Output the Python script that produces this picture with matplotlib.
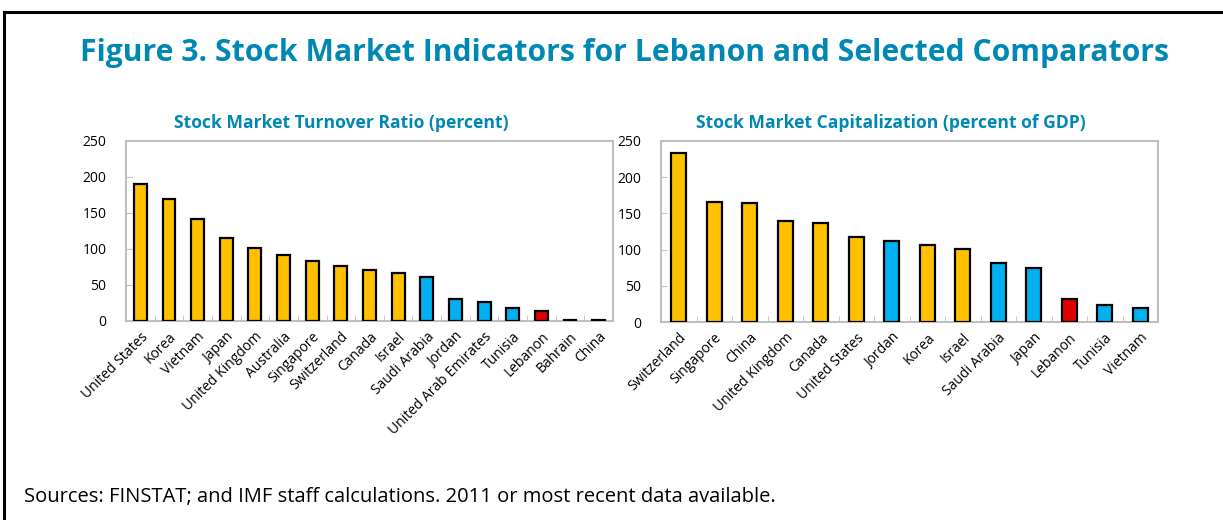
import matplotlib
matplotlib.use("Agg")
import matplotlib.pyplot as plt
from matplotlib.lines import Line2D
import numpy as np

plt.rcParams['font.family'] = ['Open Sans', 'DejaVu Sans']

YEL = '#FFC000'
BLU = '#00B0F0'
RED = '#E00000'
TEAL = '#0088B5'

# turnover ratio (percent)
turn_names = ['United States', 'Korea', 'Vietnam', 'Japan', 'United Kingdom', 'Australia',
              'Singapore', 'Switzerland', 'Canada', 'Israel', 'Saudi Arabia', 'Jordan',
              'United Arab Emirates', 'Tunisia', 'Lebanon', 'Bahrain', 'China']
turn_vals = [190, 169, 141, 115, 102, 91, 83, 76, 71, 67, 61, 30, 26, 18, 14, 2, 1]
turn_cols = [YEL]*10 + [BLU]*4 + [RED] + [BLU]*2

# market capitalization (percent of GDP)
cap_names = ['Switzerland', 'Singapore', 'China', 'United Kingdom', 'Canada', 'United States',
             'Jordan', 'Korea', 'Israel', 'Saudi Arabia', 'Japan', 'Lebanon', 'Tunisia', 'Vietnam']
cap_vals = [234, 166, 164, 139, 137, 117, 112, 107, 101, 81, 74, 32, 24, 19]
cap_cols = [YEL]*6 + [BLU] + [YEL]*2 + [BLU]*2 + [RED] + [BLU]*2

fig = plt.figure(figsize=(12.23, 5.2), dpi=100)
W, H = 1223, 520


def panel(rect, names, vals, cols, title, title_x, width):
    l, t, r, b = rect
    ax = fig.add_axes([l / W, 1 - b / H, (r - l) / W, (b - t) / H])
    x = np.arange(len(names))
    ax.bar(x, vals, width=width, color=cols, edgecolor='black', linewidth=1.6, zorder=3)
    ax.set_xlim(-0.5, len(names) - 0.5)
    ax.set_ylim(0, 250)
    ax.set_yticks(range(0, 251, 50))
    ax.set_xticks(x)
    ax.set_xticklabels(names, rotation=45, ha='right', rotation_mode='anchor', fontsize=10)
    ax.set_xticks(np.arange(0.5, len(names) - 1, 1), minor=True)
    ax.tick_params(axis='x', which='major', length=0, pad=6)
    ax.tick_params(axis='x', which='minor', direction='in', length=4, color='#BFBFBF')
    ax.tick_params(axis='y', direction='in', length=4, color='#BFBFBF', labelsize=10, pad=14)
    for s in ax.spines.values():
        s.set_color('#BFBFBF')
        s.set_linewidth(1.5)
    fig.text(title_x / W, 1 - 123 / H, title, ha='center', va='center',
             color=TEAL, fontsize=12.6, fontweight='bold')
    return ax


panel((126, 141, 613, 321), turn_names, turn_vals, turn_cols,
      'Stock Market Turnover Ratio (percent)', 341, 0.45)
panel((661, 141, 1158, 322), cap_names, cap_vals, cap_cols,
      'Stock Market Capitalization (percent of GDP)', 891, 0.42)

fig.text(624 / W, 1 - 53 / H, 'Figure 3. Stock Market Indicators for Lebanon and Selected Comparators',
         ha='center', va='center', color=TEAL, fontsize=21.7, fontweight='bold')
fig.text(24 / W, 1 - 497 / H, 'Sources: FINSTAT; and IMF staff calculations. 2011 or most recent data available.',
         ha='left', va='center', fontsize=14.5)

# outer frame (top and left edge)
fig.add_artist(Line2D([4 / W, 1], [1 - 12 / H, 1 - 12 / H], color='black', lw=2.2))
fig.add_artist(Line2D([4 / W, 4 / W], [0, 1 - 12 / H], color='black', lw=2.2))

fig.savefig('out.png', dpi=100, facecolor='white')
